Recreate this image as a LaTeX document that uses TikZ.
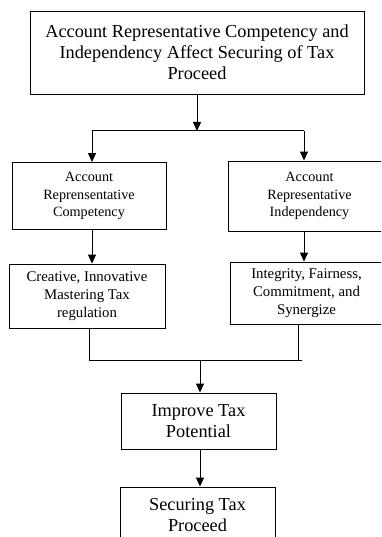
\documentclass[tikz,border=0pt]{standalone}
\usepackage{fontspec}
\setmainfont{Liberation Serif}
\usetikzlibrary{arrows.meta}
\begin{document}
\begin{tikzpicture}[x=1pt,y=-1pt,
  box/.style={draw,line width=0.9pt,align=center,inner sep=0pt,anchor=center},
  arr/.style={line width=1pt,-{Triangle[length=9pt,width=8pt]}},
  ln/.style={line width=1pt},
  fbig/.style={font=\fontsize{18.3}{21}\selectfont},
  fmid/.style={font=\fontsize{14.2}{17.5}\selectfont},
  fsub/.style={font=\fontsize{14.8}{18}\selectfont}]
\useasboundingbox (0,0) rectangle (381,537);
\clip (0,0) rectangle (381,537);
\fill[white] (0,0) rectangle (381,537);
\node[box,fbig,minimum width=334pt,minimum height=83pt] (top) at (197,52.5)
  {Account Representative Competency and\\Independency Affect Securing of Tax\\Proceed};
\node[box,fmid,minimum width=154pt,minimum height=67pt] (L2) at (89,196)
  {Account\\Reprensentative\\Competency};
\node[box,fmid,minimum width=162pt,minimum height=70pt] (R2) at (309.5,196)
  {Account\\Representative\\Independency};
\node[box,fsub,minimum width=156pt,minimum height=64pt] (L3) at (87,296)
  {Creative, Innovative\\Mastering Tax\\regulation};
\node[box,fsub,minimum width=153pt,minimum height=62pt] (R3) at (306.5,293)
  {Integrity, Fairness,\\Commitment, and\\Synergize};
\node[box,fbig,minimum width=155pt,minimum height=56pt] (imp) at (198.5,421)
  {Improve Tax\\Potential};
\node[box,fbig,minimum width=155pt,minimum height=56pt] (sec) at (197.5,515)
  {Securing Tax\\Proceed};
\coordinate (jT) at (197,131);
\coordinate (jTL) at (92,131);
\coordinate (jTR) at (304,131);
\coordinate (jBL) at (89,360);
\coordinate (jBR) at (302,360);
\coordinate (jBC) at (200,360);
\coordinate (jRB) at (298,360);
\draw[arr] (top.south -| jT) -- (jT);
\draw[ln] (jTL) -- (jTR);
\draw[arr] (jTL) -- (L2.north -| jTL);
\draw[arr] (jTR) -- (R2.north -| jTR);
\draw[arr] (L2.south -| jTL) -- (L3.north -| jTL);
\draw[arr] (R2.south -| jTR) -- (R3.north -| jTR);
\draw[ln] (L3.south -| jBL) -- (jBL);
\draw[ln] (R3.south -| jRB) -- (jRB);
\draw[ln] (jBL) -- (jBR);
\draw[arr] (jBC) -- (imp.north -| jBC);
\draw[arr] (imp.south -| jBC) -- (sec.north -| jBC);
\end{tikzpicture}
\end{document}
